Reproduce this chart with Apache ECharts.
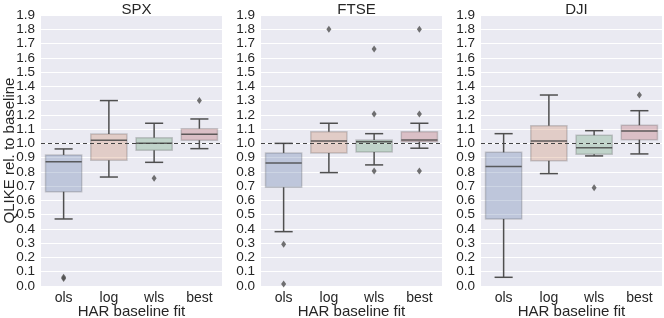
<!DOCTYPE html>
<html>
<head>
<meta charset="utf-8">
<script src="https://cdn.jsdelivr.net/npm/echarts@6/dist/echarts.min.js"></script>
<style>html,body{margin:0;padding:0;background:#fff;}#c{width:664px;height:318px;}</style>
</head>
<body>
<div id="c"></div>
<script>
const categories = ['ols', 'log', 'wls', 'best'];
const panelNames = ['SPX', 'FTSE', 'DJI'];
const yTicks = [0, 0.1, 0.2, 0.3, 0.4, 0.5, 0.6, 0.7, 0.8, 0.9, 1.0, 1.1, 1.2, 1.3, 1.4, 1.5, 1.6, 1.7, 1.8, 1.9];
// [lower whisker, Q1, median, Q3, upper whisker]
const spxBox = [[0.47, 0.661, 0.872, 0.919, 0.961], [0.764, 0.881, 1.022, 1.066, 1.30], [0.867, 0.951, 1.0, 1.040, 1.141], [0.963, 1.022, 1.064, 1.103, 1.171]];
const ftseBox = [[0.381, 0.692, 0.863, 0.933, 1.0], [0.795, 0.933, 1.017, 1.082, 1.141], [0.849, 0.94, 1.012, 1.024, 1.068], [0.966, 1.012, 1.024, 1.082, 1.141]];
const djiBox = [[0.061, 0.47, 0.837, 0.937, 1.068], [0.788, 0.879, 1.017, 1.124, 1.339], [0.912, 0.924, 0.970, 1.057, 1.089], [0.926, 1.026, 1.087, 1.127, 1.229]];
const spxOut = [['ols', 0.052], ['ols', 0.062], ['wls', 0.755], ['best', 1.30]];
const ftseOut = [['ols', 0.292], ['ols', 0.014], ['log', 1.80], ['wls', 1.662], ['wls', 1.206], ['wls', 0.806], ['best', 1.80], ['best', 1.206], ['best', 0.806]];
const djiOut = [['wls', 0.689], ['best', 1.339]];
const baseline = 1.0;

const boxes = [spxBox, ftseBox, djiBox];
const outs = [spxOut, ftseOut, djiOut];
const fills = ['rgba(89,117,164,0.30)', 'rgba(204,137,99,0.30)', 'rgba(95,158,110,0.30)', 'rgba(181,93,96,0.30)'];
const edgeCol = 'rgba(60,60,60,0.22)';
const lineCol = '#4f4f4f';
const txt = '#262626';
const FONT = 'Liberation Sans, Arial, sans-serif';

const lefts = [41, 261, 481];
const grid = [], xAxis = [], yAxis = [], series = [], title = [];
for (let p = 0; p < 3; p++) {
  grid.push({left: lefts[p], width: 181, top: 15, height: 271, show: true, backgroundColor: '#eaeaf2',
    borderWidth: 0, containLabel: false, outerBoundsMode: 'none'});
  title.push({text: panelNames[p], left: lefts[p] + 90.5, top: -3, textAlign: 'center',
    textStyle: {fontFamily: FONT, fontSize: 15, fontWeight: 'normal', color: txt}});
  xAxis.push({type: 'category', gridIndex: p, data: categories, boundaryGap: true,
    axisLine: {show: false}, axisTick: {show: false}, splitLine: {show: false},
    axisLabel: {fontFamily: FONT, fontSize: 14, color: txt, margin: 5},
    name: 'HAR baseline fit', nameLocation: 'middle', nameGap: 18, nameMoveOverlap: false,
    nameTextStyle: {fontFamily: FONT, fontSize: 15, color: txt, verticalAlign: 'top'}});
  yAxis.push({type: 'value', gridIndex: p, min: 0, max: 1.9, interval: 0.1,
    axisLine: {show: false}, axisTick: {show: false},
    splitLine: {show: true, lineStyle: {color: '#ffffff', width: 1}},
    axisLabel: {fontFamily: FONT, fontSize: 13.5, color: txt, margin: 6, showMinLabel: true, showMaxLabel: true,
      hideOverlap: false, formatter: v => v.toFixed(1)},
    name: p === 0 ? 'QLIKE rel. to baseline' : '', nameLocation: 'middle', nameGap: 24, nameRotate: 90,
    nameMoveOverlap: false,
    nameTextStyle: {fontFamily: FONT, fontSize: 15, color: txt}});
  const data = boxes[p].map((b, i) => [i].concat(b));
  series.push({
    type: 'custom', xAxisIndex: p, yAxisIndex: p, data: data,
    encode: {x: 0, y: [1, 2, 3, 4, 5]}, z: 3,
    renderItem: function (params, api) {
      const i = api.value(0);
      const bw = api.size([1, 0])[0] * 0.8;
      const lo = api.coord([i, api.value(1)]);
      const q1 = api.coord([i, api.value(2)]);
      const med = api.coord([i, api.value(3)]);
      const q3 = api.coord([i, api.value(4)]);
      const hi = api.coord([i, api.value(5)]);
      const cx = lo[0];
      const cap = bw / 4;
      const ls = {stroke: lineCol, lineWidth: 1.5};
      return {type: 'group', children: [
        {type: 'line', shape: {x1: cx, y1: q3[1], x2: cx, y2: hi[1]}, style: ls},
        {type: 'line', shape: {x1: cx, y1: q1[1], x2: cx, y2: lo[1]}, style: ls},
        {type: 'line', shape: {x1: cx - cap, y1: hi[1], x2: cx + cap, y2: hi[1]}, style: ls},
        {type: 'line', shape: {x1: cx - cap, y1: lo[1], x2: cx + cap, y2: lo[1]}, style: ls},
        {type: 'rect', shape: {x: cx - bw / 2, y: q3[1], width: bw, height: q1[1] - q3[1]},
          style: {fill: fills[i], stroke: edgeCol, lineWidth: 1.5}},
        {type: 'line', shape: {x1: cx - bw / 2, y1: med[1], x2: cx + bw / 2, y2: med[1]}, style: {stroke: 'rgba(70,70,70,0.85)', lineWidth: 1.5}}
      ]};
    },
    markLine: {silent: true, symbol: ['none', 'none'], label: {show: false},
      lineStyle: {color: '#444444', type: [4, 3], width: 1}, data: [{yAxis: baseline}]}
  });
  series.push({type: 'scatter', xAxisIndex: p, yAxisIndex: p, data: outs[p], symbol: 'diamond',
    symbolSize: [5, 7], itemStyle: {color: '#4f4f4f'}, z: 4});
}
const chart = echarts.init(document.getElementById('c'), null, {renderer: 'canvas'});
chart.setOption({animation: false, backgroundColor: '#ffffff', title, grid, xAxis, yAxis, series});
</script>
</body>
</html>
